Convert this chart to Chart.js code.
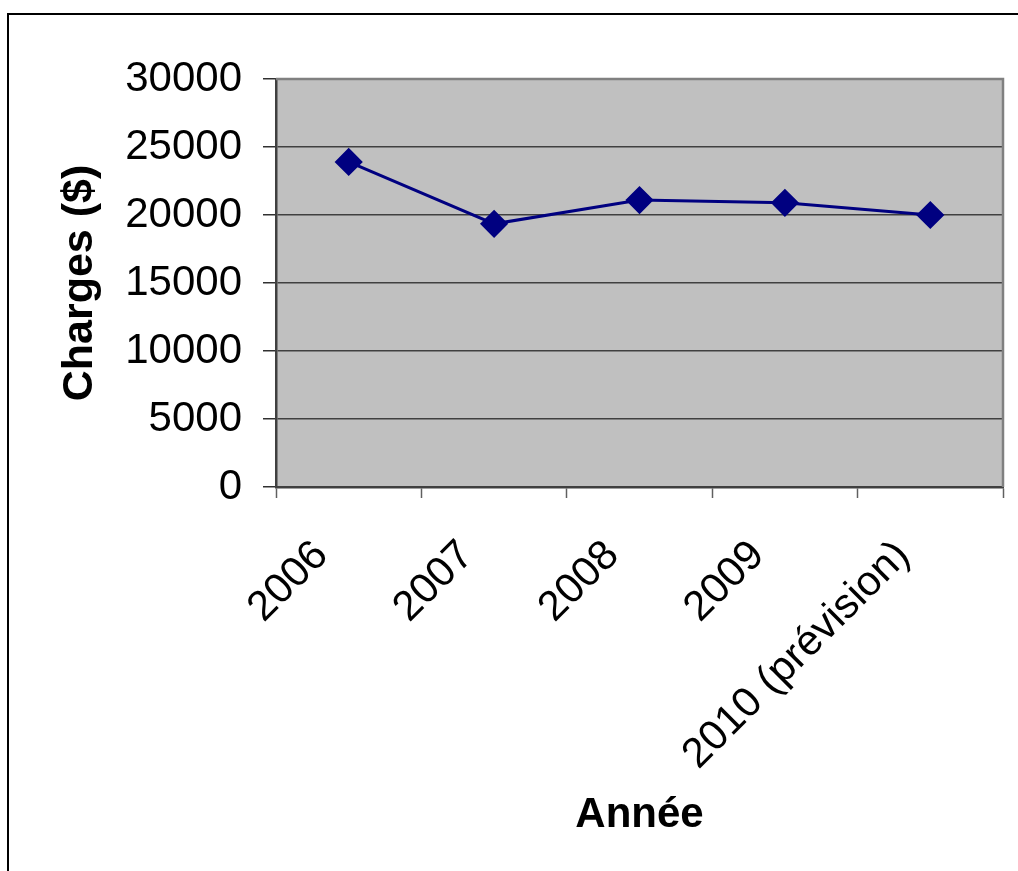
<!DOCTYPE html>
<html>
<head>
<meta charset="utf-8">
<script src="https://cdn.jsdelivr.net/npm/chart.js@4/dist/chart.umd.min.js"></script>
<style>
  html, body { margin: 0; padding: 0; background: #fff; overflow: hidden; }
  #wrap { position: relative; width: 1018px; height: 871px; }
  #frame { position: absolute; left: 7px; top: 13px; width: 1100px; height: 1000px; border: 2px solid #000; }
  canvas { position: absolute; left: 0; top: 0; }
</style>
</head>
<body>
<div id="wrap">
  <div id="frame"></div>
  <canvas id="myChart" width="1018" height="871"></canvas>
</div>
<script>
// Données
const annees = ['2006', '2007', '2008', '2009', '2010 (prévision)'];
const charges = [23900, 19350, 21100, 20900, 20000];
const yMin = 0;
const yMax = 30000;
const yPas = 5000;

const police = "'Liberation Sans', Arial, sans-serif";

// fond gris de la zone de tracé + bordure grise haut/droite
const fondZone = {
    id: 'fondZone',
    beforeDraw(chart) {
        const { ctx, chartArea: a } = chart;
        ctx.save();
        ctx.fillStyle = '#C0C0C0';
        ctx.fillRect(a.left, a.top, a.right - a.left, a.bottom - a.top);
        ctx.restore();
    },
    beforeDatasetsDraw(chart) {
        const { ctx, chartArea: a } = chart;
        ctx.save();
        ctx.strokeStyle = '#808080';
        ctx.lineWidth = 2.5;
        ctx.beginPath();
        ctx.moveTo(a.left, a.top);
        ctx.lineTo(a.right, a.top);
        ctx.lineTo(a.right, a.bottom);
        ctx.stroke();
        ctx.restore();
    }
};

const ctx = document.getElementById('myChart').getContext('2d');
const chartInstance = new Chart(ctx, {
    type: 'line',
    data: {
        labels: annees,
        datasets: [{
            label: 'Charges',
            data: charges,
            borderColor: '#000080',
            backgroundColor: '#000080',
            borderWidth: 3,
            pointStyle: 'rectRot',
            pointRadius: 12,
            pointHoverRadius: 12,
            tension: 0
        }]
    },
    options: {
        responsive: false,
        animation: false,
        layout: { padding: { left: 0, top: 79, right: 15, bottom: 0 } },
        plugins: {
            legend: { display: false },
            tooltip: { enabled: false }
        },
        scales: {
            x: {
                offset: true,
                grid: {
                    offset: true,
                    drawOnChartArea: false,
                    drawTicks: true,
                    tickLength: 11,
                    tickColor: '#606060',
                    tickWidth: 1.5
                },
                border: { color: '#404040', width: 2.5 },
                ticks: {
                    autoSkip: false,
                    minRotation: 45,
                    maxRotation: 45,
                    labelOffset: -27,
                    padding: 33,
                    color: '#000',
                    font: { family: police, size: 42 }
                },
                title: {
                    display: true,
                    text: 'Année',
                    color: '#000',
                    font: { family: police, size: 42, weight: 'bold' },
                    padding: { top: 0, bottom: 30 }
                },
                afterFit(scale) { scale.height = 871 - 487; }
            },
            y: {
                min: yMin,
                max: yMax,
                ticks: {
                    stepSize: yPas,
                    padding: 21,
                    color: '#000',
                    font: { family: police, size: 42 },
                    callback: (v) => String(v)
                },
                grid: {
                    color: '#404040',
                    lineWidth: 1.5,
                    tickLength: 13,
                    tickColor: '#303030'
                },
                border: { color: '#404040', width: 2.5 },
                title: {
                    display: true,
                    text: 'Charges ($)',
                    color: '#000',
                    font: { family: police, size: 43, weight: 'bold' },
                    padding: { top: 54, bottom: 0 }
                },
                afterFit(scale) { scale.width = 276; }
            }
        }
    },
    plugins: [fondZone]
});
</script>
</body>
</html>
